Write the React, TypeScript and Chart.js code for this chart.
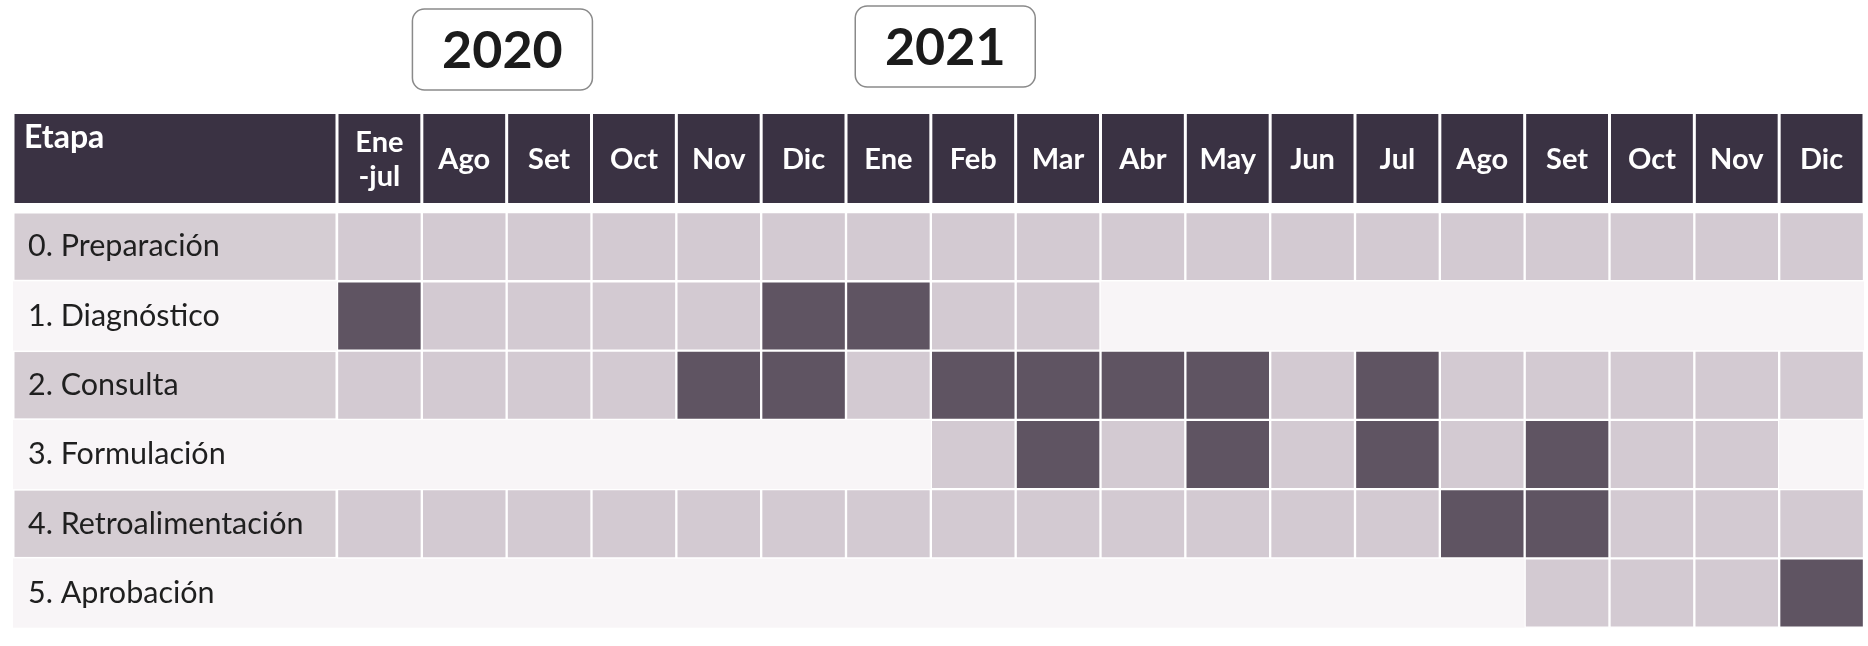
import React, { useEffect, useRef } from 'react';
import { Chart, registerables } from 'chart.js';

Chart.register(...registerables);

// ---- data ----
const headerLabel = 'Etapa';
const months: (string | string[])[] = [
  ['Ene', '-jul'], 'Ago', 'Set', 'Oct', 'Nov', 'Dic',
  'Ene', 'Feb', 'Mar', 'Abr', 'May', 'Jun', 'Jul', 'Ago', 'Set', 'Oct', 'Nov', 'Dic',
];
const years = ['2020', '2021'];
const stages = [
  '0. Preparación',
  '1. Diagnóstico',
  '2. Consulta',
  '3. Formulación',
  '4. Retroalimentación',
  '5. Aprobación',
];
// 0 = vacío, 1 = celda clara, 2 = celda oscura (actividad)
const preparacion = [1, 1, 1, 1, 1, 1, 1, 1, 1, 1, 1, 1, 1, 1, 1, 1, 1, 1];
const diagnostico = [2, 1, 1, 1, 1, 2, 2, 1, 1, 0, 0, 0, 0, 0, 0, 0, 0, 0];
const consulta = [1, 1, 1, 1, 2, 2, 1, 2, 2, 2, 2, 1, 2, 1, 1, 1, 1, 1];
const formulacion = [0, 0, 0, 0, 0, 0, 0, 1, 2, 1, 2, 1, 2, 1, 2, 1, 1, 0];
const retroalimentacion = [1, 1, 1, 1, 1, 1, 1, 1, 1, 1, 1, 1, 1, 2, 2, 1, 1, 1];
const aprobacion = [0, 0, 0, 0, 0, 0, 0, 0, 0, 0, 0, 0, 0, 0, 1, 1, 1, 2];
const stageStatus = [preparacion, diagnostico, consulta, formulacion, retroalimentacion, aprobacion];

// ---- styles ----
const W = 1868;
const H = 646;
const HEADER_BG = '#3a3243';
const DARK = '#5f5462';
const LIGHT = '#d3cad2';
const LABEL_BG = '#d5cdd3';
const PALE_ROW = '#f8f5f7';
const GAP = 1.5;
const FONT = 'Lato, "Open Sans", sans-serif';
const LABEL_LEFT = 28;

const tablePlugin = {
  id: 'tableDecor',
  beforeDraw(chart: any) {
    const { ctx, chartArea, scales } = chart;
    const x = scales.x;
    const y = scales.y;
    const tableLeft = 13;
    ctx.save();
    ctx.fillStyle = '#ffffff';
    ctx.fillRect(0, 0, W, H);

    // rows background
    stages.forEach((_, r) => {
      const top = y.getPixelForValue(r);
      const bot = y.getPixelForValue(r + 1);
      if (r % 2 === 1) {
        ctx.fillStyle = PALE_ROW;
        ctx.fillRect(tableLeft, top, chartArea.right - tableLeft, bot - top);
      } else {
        ctx.fillStyle = LABEL_BG;
        ctx.fillRect(tableLeft + GAP, top + GAP, chartArea.left - tableLeft - 2 * GAP, bot - top - 2 * GAP);
      }
    });

    // header
    const hTop = 114;
    const hBot = 203;
    ctx.fillStyle = HEADER_BG;
    ctx.fillRect(tableLeft + GAP, hTop, chartArea.left - tableLeft - 2 * GAP, hBot - hTop);
    const colW = x.width / months.length;
    months.forEach((_, i) => {
      const c = x.getPixelForValue(i);
      ctx.fillRect(c - colW / 2 + GAP, hTop, colW - 2 * GAP, hBot - hTop);
    });

    ctx.fillStyle = '#ffffff';
    ctx.font = `bold 32px ${FONT}`;
    ctx.textBaseline = 'middle';
    ctx.textAlign = 'left';
    ctx.fillText(headerLabel, 24, 138);
    ctx.font = `bold 29px ${FONT}`;
    ctx.textAlign = 'center';
    const mid = 160;
    months.forEach((m, i) => {
      const c = x.getPixelForValue(i);
      const lines = Array.isArray(m) ? m : [m];
      const lh = 34;
      lines.forEach((ln, k) => {
        ctx.fillText(ln, c, mid + (k - (lines.length - 1) / 2) * lh);
      });
    });

    // year boxes
    const anchors = [1.45, 6.67];
    years.forEach((yr, i) => {
      const cx = x.getPixelForValue(anchors[i]);
      const bw = 180;
      const bh = 81;
      const top = i === 0 ? 9 : 6;
      ctx.beginPath();
      ctx.roundRect(cx - bw / 2, top, bw, bh, 12);
      ctx.fillStyle = '#ffffff';
      ctx.fill();
      ctx.lineWidth = 1.5;
      ctx.strokeStyle = '#8a8a8a';
      ctx.stroke();
      ctx.fillStyle = '#1b1b1b';
      ctx.font = `bold 52px ${FONT}`;
      ctx.textAlign = 'center';
      ctx.textBaseline = 'middle';
      ctx.fillText(yr, cx, top + bh / 2 + 2);
    });
    ctx.restore();
  },
};

export default function App() {
  const ref = useRef<HTMLCanvasElement>(null);
  useEffect(() => {
    if (!ref.current) return;
    const datasets = stageStatus.map((status, r) => ({
      label: stages[r],
      data: status.map((s) => (s === 0 ? null : [r, r + 1])) as any,
      backgroundColor: status.map((s) => (s === 2 ? DARK : LIGHT)),
      borderColor: '#ffffff',
      borderWidth: GAP,
      borderSkipped: false,
      grouped: false,
      barPercentage: 1,
      categoryPercentage: 1,
    }));
    const chart = new Chart(ref.current, {
      type: 'bar',
      data: { labels: months as any, datasets: datasets as any },
      plugins: [tablePlugin],
      options: {
        responsive: false,
        animation: false,
        events: [],
        layout: { padding: { top: 212, right: 4, bottom: 3, left: LABEL_LEFT } },
        plugins: { legend: { display: false }, tooltip: { enabled: false }, title: { display: false } },
        scales: {
          x: { type: 'category', display: false, offset: true, grid: { display: false } },
          y: { type: 'linear', display: false, min: 0, max: 6, reverse: true },
          stageAxis: {
            type: 'category',
            labels: stages,
            position: 'left',
            offset: true,
            grid: { display: false, drawTicks: false },
            border: { display: false },
            ticks: {
              crossAlign: 'far',
              color: '#1f1f1f',
              font: { family: FONT, size: 30.5 },
              padding: 0,
            },
            afterFit: (s: any) => {
              s.width = 337 - LABEL_LEFT;
            },
          } as any,
        },
      },
    });
    return () => chart.destroy();
  }, []);
  return (
    <div style={{ position: 'fixed', left: 0, top: 0, width: W, height: H, background: '#fff' }}>
      <canvas ref={ref} width={W} height={H} style={{ display: 'block', width: W, height: H }} />
    </div>
  );
}
